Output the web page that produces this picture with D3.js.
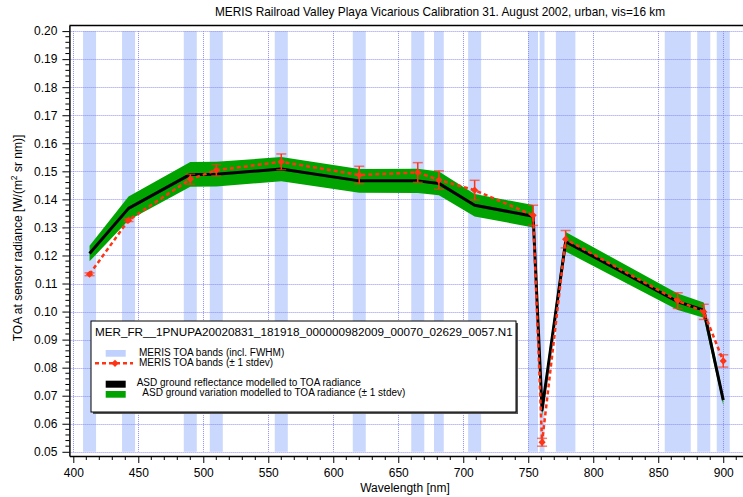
<!DOCTYPE html>
<html>
<head>
<meta charset="utf-8">
<script src="https://cdn.jsdelivr.net/npm/d3@7"></script>
<style>
  body { margin: 0; background: #fff; }
  svg { display: block; font-family: "Liberation Sans", Arial, Helvetica, sans-serif; }
</style>
</head>
<body>
<svg id="chart" width="743" height="497"></svg>
<script>
// Data
const wavelengths = [412.5, 442.5, 490, 510, 560, 620, 665, 681.25, 708.75, 753.75, 760.625, 778.75, 865, 885, 900]
const bandWidths = [10, 10, 10, 10, 10, 10, 10, 7.5, 10, 7.5, 3.75, 15, 20, 10, 10]
const asdRadiance = [0.1207, 0.1368, 0.1489, 0.1490, 0.1508, 0.1466, 0.1466, 0.1457, 0.1379, 0.1340, 0.0649, 0.1249, 0.1035, 0.1005, 0.0684]
const asdStdev = [0.0028, 0.0042, 0.0044, 0.0044, 0.0043, 0.0042, 0.0043, 0.0042, 0.0040, 0.0040, 0.0022, 0.0035, 0.0029, 0.0027, 0.0018]
const merisRadiance = [0.1133, 0.1326, 0.1472, 0.1504, 0.1534, 0.1487, 0.1496, 0.1469, 0.1433, 0.1343, 0.0534, 0.1258, 0.1039, 0.0999, 0.0824]
const merisStdev = [0.0005, 0.0005, 0.0018, 0.0020, 0.0028, 0.0031, 0.0035, 0.0033, 0.0035, 0.0036, 0.0014, 0.0031, 0.0028, 0.0027, 0.0022]
const xTicks = [400, 450, 500, 550, 600, 650, 700, 750, 800, 850, 900]
const yTicks = [0.05, 0.06, 0.07, 0.08, 0.09, 0.10, 0.11, 0.12, 0.13, 0.14, 0.15, 0.16, 0.17, 0.18, 0.19, 0.20]

const titleText = "MERIS Railroad Valley Playa Vicarious Calibration 31. August 2002, urban, vis=16 km"
const legendTitle = "MER_FR__1PNUPA20020831_181918_000000982009_00070_02629_0057.N1"

// Colours
const colBand = '#c1d1fd'
const colGrid = '#8585f5'
const colGreen = '#00a300'
const colRed = '#ff3414'

const svg = d3.select("#chart")

// Plot box
const plotLeft = 69.4, plotRight = 743, plotTop = 25.5, plotBottom = 456

const x = d3.scaleLinear().domain([397, 915.2]).range([plotLeft, plotRight])
const y = d3.scaleLinear().domain([0.0485, 0.202]).range([plotBottom, plotTop])

const pts = wavelengths.map((w, i) => ({
    w: w, bw: bandWidths[i],
    asd: asdRadiance[i], asdSd: asdStdev[i],
    meris: merisRadiance[i], merisSd: merisStdev[i]
}))

// MERIS bands (FWHM)
svg.append('g').selectAll('rect')
    .data(pts)
    .join('rect')
    .attr('x', d => x(d.w - d.bw / 2))
    .attr('width', d => x(d.w + d.bw / 2) - x(d.w - d.bw / 2))
    .attr('y', y(0.20))
    .attr('height', y(0.05) - y(0.20))
    .attr('fill', colBand)
    .attr('opacity', 0.85)

// Grid (dotted blue, drawn over the bands)
const grid = svg.append('g')
grid.selectAll('.hg')
    .data(yTicks)
    .join('line')
    .attr('class', 'hg')
    .attr('x1', plotLeft).attr('x2', plotRight)
    .attr('y1', d => Math.round(y(d)) + 0.5).attr('y2', d => Math.round(y(d)) + 0.5)
grid.selectAll('.vg')
    .data(xTicks)
    .join('line')
    .attr('class', 'vg')
    .attr('x1', d => Math.round(x(d)) + 0.5).attr('x2', d => Math.round(x(d)) + 0.5)
    .attr('y1', y(0.20)).attr('y2', y(0.05))
grid.selectAll('line')
    .attr('stroke', colGrid)
    .attr('stroke-width', 1)
    .attr('stroke-dasharray', '1,1')
    .attr('opacity', 0.9)

// ASD stdev area
const area = d3.area()
    .x(d => x(d.w))
    .y0(d => y(d.asd - d.asdSd))
    .y1(d => y(d.asd + d.asdSd))
svg.append('path')
    .datum(pts)
    .attr('d', area)
    .attr('fill', colGreen)

// ASD model line
svg.append('path')
    .datum(pts)
    .attr('d', d3.line().x(d => x(d.w)).y(d => y(d.asd)))
    .attr('fill', 'none')
    .attr('stroke', '#000')
    .attr('stroke-width', 3)
    .attr('stroke-linejoin', 'round')

// MERIS dashed line
svg.append('path')
    .datum(pts)
    .attr('d', d3.line().x(d => x(d.w)).y(d => y(d.meris)))
    .attr('fill', 'none')
    .attr('stroke', colRed)
    .attr('stroke-width', 2.5)
    .attr('stroke-dasharray', '4,3')

// Error bars
const eb = svg.append('g').selectAll('g')
    .data(pts)
    .join('g')
eb.append('line')
    .attr('x1', d => x(d.w)).attr('x2', d => x(d.w))
    .attr('y1', d => y(d.meris - d.merisSd)).attr('y2', d => y(d.meris + d.merisSd))
    .attr('stroke', colRed).attr('stroke-width', 1.5)
eb.selectAll('.cap')
    .data(d => [[d.w, d.meris - d.merisSd], [d.w, d.meris + d.merisSd]])
    .join('line')
    .attr('class', 'cap')
    .attr('x1', d => x(d[0]) - 5).attr('x2', d => x(d[0]) + 5)
    .attr('y1', d => y(d[1])).attr('y2', d => y(d[1]))
    .attr('stroke', colRed).attr('stroke-width', 1.5).attr('opacity', 0.65)

// Markers
const diamond = d3.symbol(d3.symbolSquare, 26)
svg.append('g').selectAll('path')
    .data(pts)
    .join('path')
    .attr('d', diamond)
    .attr('transform', d => `translate(${x(d.w)},${y(d.meris)}) rotate(45)`)
    .attr('fill', colRed)

// Axes
const xAxis = svg.append('g')
    .attr('transform', `translate(0,${plotBottom})`)
    .call(d3.axisBottom(x).tickValues(xTicks).tickSize(7).tickPadding(5).tickSizeOuter(0).tickFormat(d3.format('d')))
xAxis.append('g').selectAll('line')
    .data(d3.range(400, 911, 10).filter(v => v % 50 !== 0))
    .join('line')
    .attr('x1', d => x(d)).attr('x2', d => x(d))
    .attr('y1', 0).attr('y2', 4)
    .attr('stroke', '#000')

const yAxis = svg.append('g')
    .attr('transform', `translate(${plotLeft},0)`)
    .call(d3.axisLeft(y).tickValues(yTicks).tickSize(7).tickPadding(5).tickSizeOuter(0).tickFormat(d3.format('.2f')))
yAxis.append('g').selectAll('line')
    .data(d3.range(50, 201, 2).filter(v => v % 10 !== 0).map(v => v / 1000))
    .join('line')
    .attr('x1', 0).attr('x2', -4)
    .attr('y1', d => y(d)).attr('y2', d => y(d))
    .attr('stroke', '#000')

svg.selectAll('.domain').attr('stroke-width', 1.5)
svg.selectAll('.tick text').attr('font-size', 12).attr('fill', '#000')
    .attr('font-family', '"Liberation Sans", Arial, sans-serif')

// Top frame line
svg.append('line')
    .attr('x1', plotLeft).attr('x2', plotRight)
    .attr('y1', plotTop).attr('y2', plotTop)
    .attr('stroke', '#000').attr('stroke-width', 1.5)

// Title and axis labels
svg.append('text')
    .attr('x', 440).attr('y', 16)
    .attr('text-anchor', 'middle')
    .attr('font-size', 11.85)
    .text(titleText)

svg.append('text')
    .attr('x', 405).attr('y', 492)
    .attr('text-anchor', 'middle')
    .attr('font-size', 12)
    .text('Wavelength [nm]')

const yl = svg.append('text')
    .attr('transform', 'translate(22,238) rotate(-90)')
    .attr('text-anchor', 'middle')
    .attr('font-size', 12)
yl.append('tspan').text('TOA at sensor radiance [W/(m')
yl.append('tspan').attr('baseline-shift', 'super').attr('font-size', 8.5).text('2')
yl.append('tspan').text(' sr nm)]')

// Legend
const lg = svg.append('g')
lg.append('rect')
    .attr('x', 93).attr('y', 323).attr('width', 425).attr('height', 91)
    .attr('fill', '#555')
lg.append('rect')
    .attr('x', 91).attr('y', 321).attr('width', 425).attr('height', 91)
    .attr('fill', '#fff').attr('stroke', '#000').attr('stroke-width', 1)
lg.append('text')
    .attr('x', 95).attr('y', 335.5)
    .attr('font-size', 11.7)
    .text(legendTitle)

lg.append('rect')
    .attr('x', 105.7).attr('y', 350).attr('width', 20).attr('height', 6.7)
    .attr('fill', colBand)
lg.append('line')
    .attr('x1', 95).attr('x2', 133).attr('y1', 363.3).attr('y2', 363.3)
    .attr('stroke', colRed).attr('stroke-width', 2.5).attr('stroke-dasharray', '4,3')
lg.append('path')
    .attr('d', diamond)
    .attr('transform', 'translate(115,363.3) rotate(45)')
    .attr('fill', colRed)
lg.append('rect')
    .attr('x', 105.7).attr('y', 380.7).attr('width', 20).attr('height', 7)
    .attr('fill', '#000')
lg.append('rect')
    .attr('x', 105.7).attr('y', 391).attr('width', 20).attr('height', 6.7)
    .attr('fill', colGreen)

const legendText = [
    ['MERIS TOA bands (incl. FWHM)', 139, 356.3],
    ['MERIS TOA bands (\u00b1 1 stdev)', 139, 366],
    ['ASD ground reflectance modelled to TOA radiance', 136.7, 386.3],
    ['ASD ground variation modelled to TOA radiance (\u00b1 1 stdev)', 142.3, 396.3]
]
lg.selectAll('.lt')
    .data(legendText)
    .join('text')
    .attr('class', 'lt')
    .attr('x', d => d[1]).attr('y', d => d[2])
    .attr('font-size', 10)
    .text(d => d[0])
</script>
</body>
</html>
